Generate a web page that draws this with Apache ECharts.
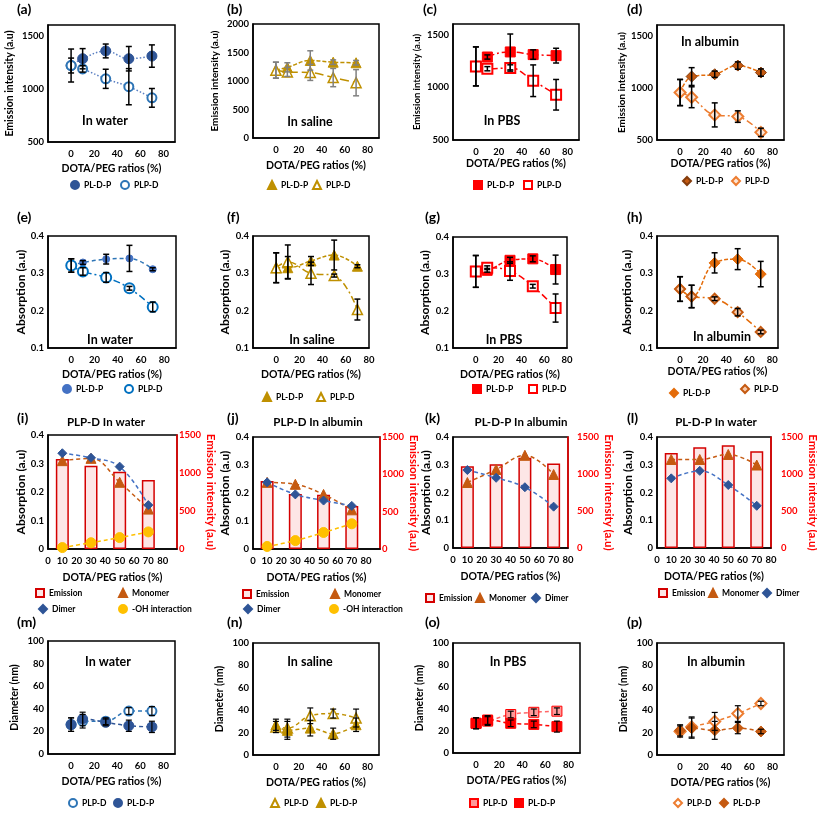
<!DOCTYPE html>
<html><head><meta charset="utf-8">
<script src="https://cdn.jsdelivr.net/npm/echarts@6/dist/echarts.min.js"></script>
<style>html,body{margin:0;padding:0;background:#fff}#c{width:817px;height:818px}</style>
</head><body><div id="c"></div>
<script>
// ---------- DATA ----------
const ratios = [0, 10, 30, 50, 70];
const barRatios = [10, 30, 50, 70];
// (a) emission in water
const aPLDP = [1219, 1283, 1356, 1283, 1308], aPLDPerr = [155, 95, 65, 115, 105];
const aPLPD = [1219, 1187, 1094, 1020, 915], aPLPDerr = [70, 30, 90, 170, 88];
// (b) emission in saline
const bPLDP = [1190, 1240, 1360, 1330, 1320], bPLDPerr = [140, 80, 170, 40, 40];
const bPLPD = [1190, 1160, 1150, 1060, 970], bPLPDerr = [140, 80, 140, 160, 230];
// (c) emission in PBS
const cPLDP = [1198, 1287, 1335, 1310, 1300], cPLDPerr = [185, 20, 170, 45, 70];
const cPLPD = [1198, 1176, 1183, 1062, 929], cPLPDerr = [185, 20, 30, 150, 145];
// (d) emission in albumin
const dPLDP = [954, 1107, 1129, 1212, 1145], dPLDPerr = [125, 85, 30, 35, 35];
const dPLPD = [954, 909, 740, 724, 573], dPLPDerr = [125, 100, 115, 55, 40];
// (e) absorption in water
const ePLDP = [0.321, 0.329, 0.338, 0.340, 0.311], ePLDPerr = [0.018, 0.005, 0.013, 0.035, 0.004];
const ePLPD = [0.321, 0.305, 0.289, 0.260, 0.210], ePLPDerr = [0.018, 0.01, 0.013, 0.005, 0.013];
// (f) absorption in saline
const fPLDP = [0.315, 0.315, 0.333, 0.349, 0.319], fPLDPerr = [0.04, 0.03, 0.012, 0.04, 0.004];
const fPLPD = [0.315, 0.331, 0.300, 0.294, 0.203], fPLPDerr = [0.04, 0.045, 0.03, 0.004, 0.028];
// (g) absorption in PBS
const gPLDP = [0.307, 0.310, 0.337, 0.341, 0.312], gPLDPerr = [0.043, 0.005, 0.008, 0.008, 0.039];
const gPLPD = [0.307, 0.317, 0.308, 0.267, 0.208], gPLPDerr = [0.043, 0.005, 0.025, 0.005, 0.038];
// (h) absorption in albumin
const hPLDP = [0.258, 0.238, 0.328, 0.338, 0.298], hPLDPerr = [0.033, 0.03, 0.027, 0.028, 0.034];
const hPLPD = [0.258, 0.238, 0.232, 0.196, 0.143], hPLPDerr = [0.033, 0.03, 0.005, 0.01, 0.005];
// (i) PLP-D in water
const iEmission = [1184, 1096, 1018, 908];
const iMonomer = [0.31, 0.318, 0.234, 0.14];
const iDimer = [0.336, 0.32, 0.289, 0.154];
const iOH = [0.005, 0.022, 0.04, 0.06];
// (j) PLP-D in albumin
const jEmission = [910, 735, 725, 575];
const jMonomer = [0.238, 0.231, 0.195, 0.14];
const jDimer = [0.238, 0.195, 0.173, 0.154];
const jOH = [0.009, 0.03, 0.059, 0.09];
// (k) PL-D-P in albumin
const kEmission = [1106, 1133, 1218, 1142];
const kMonomer = [0.236, 0.283, 0.334, 0.265];
const kDimer = [0.281, 0.253, 0.219, 0.149];
// (l) PL-D-P in water
const lEmission = [1285, 1361, 1388, 1307];
const lMonomer = [0.319, 0.319, 0.337, 0.299];
const lDimer = [0.251, 0.278, 0.227, 0.152];
// (m)-(p) diameter
const mPLPD = [26, 29, 29, 38, 38], mPLPDerr = [6, 6, 3, 3, 4];
const mPLDP = [26, 31, 28, 25, 24], mPLDPerr = [6, 6, 3, 5, 5];
const nPLPD = [25, 24, 35, 37, 33], nPLPDerr = [5, 8, 7, 4, 8];
const nPLDP = [27, 22, 24, 19, 27], nPLDPerr = [5, 8, 7, 5, 6];
const oPLPD = [27, 29, 35, 37, 38], oPLPDerr = [5, 4, 3, 3, 3];
const oPLDP = [27, 30, 27, 26, 24], oPLDPerr = [5, 4, 3, 3, 5];
const pPLPD = [21, 25, 30, 37, 46], pPLPDerr = [5, 9, 8, 7, 2];
const pPLDP = [22, 24, 22, 24, 21], pPLDPerr = [5, 9, 8, 5, 2];

// ---------- BUILD ----------
const FONT = 'Lato, "Open Sans", sans-serif';
const TICK = 9.5;
const grids = [], xAxis = [], yAxis = [], series = [], legend = [], graphic = [];

function txt(t, x, y, size, opt) {
  opt = opt || {};
  graphic.push({type: 'text', x: x, y: y, z: 100, silent: true,
    style: {text: t, fill: opt.color || '#000', fontSize: size, fontWeight: 'bold', fontFamily: FONT,
      align: opt.align || 'center', verticalAlign: 'middle'}});
}
function errRender(color, lw) {
  return function (params, api) {
    const x = api.value(0), y = api.value(1), e = api.value(2);
    const p1 = api.coord([x, y + e]), p2 = api.coord([x, y - e]);
    const w = 3, st = {stroke: color, lineWidth: lw};
    return {type: 'group', children: [
      {type: 'line', shape: {x1: p1[0], y1: p1[1], x2: p2[0], y2: p2[1]}, style: st},
      {type: 'line', shape: {x1: p1[0] - w, y1: p1[1], x2: p1[0] + w, y2: p1[1]}, style: st},
      {type: 'line', shape: {x1: p2[0] - w, y1: p2[1], x2: p2[0] + w, y2: p2[1]}, style: st}]};
  };
}
const fmtInt = v => (Math.abs(v % 500) < 1e-9 ? String(v) : '');
const fmtAbs = v => (v === 0 ? '0' : (+v).toFixed(1));
const fmtDia = v => String(Math.round(v));

function build(p) {
  const gi = grids.length;
  const [L, T, W, H] = p.box;
  grids.push({left: L, top: T, width: W, height: H, show: true, borderColor: '#000', borderWidth: 1.5,
    backgroundColor: 'transparent', containLabel: false, outerBoundsMode: 'none'});
  const xi = xAxis.length;
  xAxis.push({gridIndex: gi, type: 'value', min: p.x[0], max: p.x[1], interval: p.x[2],
    axisLine: {show: true, onZero: false, lineStyle: {color: '#000', width: 1.5}},
    axisTick: {show: false}, splitLine: {show: false},
    axisLabel: {show: true, margin: 7, color: '#000', fontSize: TICK, fontWeight: 'bold', fontFamily: FONT, hideOverlap: false,
      formatter: v => (v >= 0 && v <= 80 ? String(v) : '')},
    name: 'DOTA/PEG ratios (%)', nameLocation: 'middle', nameGap: p.xGap,
    nameTextStyle: {color: '#000', fontSize: 10.5, fontWeight: 'bold', fontFamily: FONT}});
  const yi = yAxis.length;
  yAxis.push({gridIndex: gi, type: 'value', position: 'left', min: p.y[0], max: p.y[1], interval: p.y[2],
    axisLine: {show: true, onZero: false, lineStyle: {color: '#000', width: 1.5}},
    axisTick: {show: false}, splitLine: {show: false},
    axisLabel: {margin: p.yMargin || 4, color: '#000', fontSize: TICK, fontWeight: 'bold', fontFamily: FONT, formatter: p.yFmt, hideOverlap: false},
    name: p.yName, nameLocation: 'middle', nameGap: p.yGap,
    nameTextStyle: {color: '#000', fontSize: p.yNameSize, fontWeight: 'bold', fontFamily: FONT}});
  let y2 = null;
  if (p.bars) {
    y2 = yAxis.length;
    yAxis.push({gridIndex: gi, type: 'value', position: 'right', min: 0, max: 1500, interval: 500,
      axisLine: {show: true, onZero: false, lineStyle: {color: '#ff0000', width: 1.5}},
      axisTick: {show: false}, splitLine: {show: false},
      axisLabel: {margin: p.y2Margin, color: '#ff0000', fontSize: TICK, fontWeight: 'bold', fontFamily: FONT, hideOverlap: false,
        formatter: v => String(v)},
      name: 'Emission intensity (a.u)', nameLocation: 'middle', nameGap: p.y2Gap, nameRotate: -90,
      nameTextStyle: {color: '#ff0000', fontSize: 11.5, fontWeight: 'bold', fontFamily: FONT}});
    series.push({type: 'bar', name: p.id + '|Emission', xAxisIndex: xi, yAxisIndex: y2,
      data: barRatios.map((x, i) => [x, p.bars[i]]), barWidth: 13, z: 1,
      itemStyle: {color: '#fde6e6', borderColor: '#d40000', borderWidth: 1.5}});
  }
  p.sets.forEach(s => {
    const xs = s.xs || ratios;
    const data = xs.map((x, i) => [x, s.v[i]]);
    series.push({type: 'line', xAxisIndex: xi, yAxisIndex: yi, data: data, smooth: 0.4, symbol: 'none',
      silent: true, z: 2, lineStyle: {color: s.line, width: 1.5, type: s.dash}});
    if (s.e) series.push({type: 'custom', xAxisIndex: xi, yAxisIndex: yi,
      data: xs.map((x, i) => [x, s.v[i], s.e[i]]), renderItem: errRender(p.errColor || '#000', p.errW || 1.5),
      encode: {x: 0, y: 1}, z: 5, silent: true, clip: false});
    series.push({type: 'scatter', name: p.id + '|' + s.label, xAxisIndex: xi, yAxisIndex: yi, data: data,
      symbol: s.sym, symbolSize: s.size, z: 4,
      itemStyle: {color: s.fill, borderColor: s.border, borderWidth: s.bw || 1, opacity: 1}});
  });
  p.legend.forEach(it => {
    const d = {name: p.id + '|' + it[0]};
    if (it[3]) d.icon = it[3];
    legend.push({data: [d], left: it[1] - 4, top: it[2] - 4, itemWidth: 8, itemHeight: 8, padding: 0, itemGap: 0,
      selectedMode: false, formatter: n => n.split('|')[1],
      textStyle: {color: '#000', fontSize: 8.5, fontWeight: 'bold', fontFamily: FONT}});
  });
  txt(p.tag[2], p.tag[0], p.tag[1], 14, {align: 'left'});
  if (p.text) txt(p.text[0], p.text[1], p.text[2], 12.5);
  if (p.title) txt(p.title[0], p.title[1], p.title[2], 11.5);
}

const BLUE_D = '#2f5597', BLUE = '#2e75b6', GOLD = '#bf9000', RED = '#ff0000', ORG = '#e46c0a', BRN = '#c55a11';
const DOT = [1.5, 2], DASH = [4, 2], LDASH = [9, 4], DD = [7, 3, 2, 3];

const panels = [
  {id: 'a', box: [48, 25, 127, 117], x: [-20, 90, 20], y: [500, 1600, 500], yFmt: fmtInt,
   yName: 'Emission intensity (a.u)', yNameSize: 10.5, yGap: 33, xGap: 21,
   sets: [
     {label: 'PL-D-P', v: aPLDP, e: aPLDPerr, sym: 'circle', size: 10, fill: BLUE_D, border: BLUE_D, line: '#5a7fc2', dash: DOT},
     {label: 'PLP-D', v: aPLPD, e: aPLPDerr, sym: 'circle', size: 9, fill: '#fff', border: BLUE, bw: 2, line: '#5a7fc2', dash: DOT}],
   legend: [['PL-D-P', 74, 184], ['PLP-D', 124, 184]], tag: [17, 9, '(a)'], text: ['In water', 105, 121]},
  {id: 'b', box: [253, 24, 126, 114], x: [-20, 90, 20], y: [0, 2000, 500], yFmt: fmtInt, errColor: '#808080',
   yName: 'Emission intensity (a.u)', yNameSize: 10, yGap: 33, xGap: 22,
   sets: [
     {label: 'PL-D-P', v: bPLDP, e: bPLDPerr, sym: 'triangle', size: 10, fill: GOLD, border: GOLD, line: GOLD, dash: DASH},
     {label: 'PLP-D', v: bPLPD, e: bPLPDerr, sym: 'triangle', size: 10, fill: '#fff', border: GOLD, bw: 1.5, line: GOLD, dash: LDASH}],
   legend: [['PL-D-P', 271, 184], ['PLP-D', 316, 184]], tag: [227, 9, '(b)'], text: ['In saline', 310, 122]},
  {id: 'c', box: [453, 24, 126, 116], x: [-20, 90, 20], y: [500, 1600, 500], yFmt: fmtInt,
   yName: 'Emission intensity (a.u)', yNameSize: 9.5, yGap: 31, xGap: 18,
   sets: [
     {label: 'PL-D-P', v: cPLDP, e: cPLDPerr, sym: 'rect', size: 10, fill: RED, border: RED, line: RED, dash: DD},
     {label: 'PLP-D', v: cPLPD, e: cPLPDerr, sym: 'rect', size: 10, fill: '#fff', border: RED, bw: 2, line: RED, dash: DD}],
   legend: [['PL-D-P', 477, 184], ['PLP-D', 527, 184]], tag: [423, 9, '(c)'], text: ['In PBS', 502, 121]},
  {id: 'd', box: [657, 25, 127, 115], x: [-20, 90, 20], y: [500, 1600, 500], yFmt: fmtInt,
   yName: 'Emission intensity (a.u)', yNameSize: 10, yGap: 30, xGap: 18,
   sets: [
     {label: 'PL-D-P', v: dPLDP, e: dPLDPerr, sym: 'diamond', size: 11, fill: BRN, border: '#843c0c', line: ORG, dash: DASH},
     {label: 'PLP-D', v: dPLPD, e: dPLPDerr, sym: 'diamond', size: 11, fill: '#fbe5d6', border: '#ed7d31', bw: 2, line: '#ed7d31', dash: DD}],
   legend: [['PL-D-P', 686, 180], ['PLP-D', 735, 180]], tag: [627, 9, '(d)'], text: ['In albumin', 710, 42]},
  {id: 'e', box: [48, 236, 128, 112], x: [-20, 90, 20], y: [0.1, 0.4, 0.1], yFmt: fmtAbs,
   yName: 'Absorption (a.u)', yNameSize: 12, yGap: 21, xGap: 21,
   sets: [
     {label: 'PL-D-P', v: ePLDP, e: ePLDPerr, sym: 'circle', size: 7, fill: '#4472c4', border: '#4472c4', line: BLUE, dash: [4, 3]},
     {label: 'PLP-D', v: ePLPD, e: ePLPDerr, sym: 'circle', size: 10, fill: '#fff', border: '#0070c0', bw: 2, line: '#0070c0', dash: DD}],
   legend: [['PL-D-P', 66, 388], ['PLP-D', 128, 388]], tag: [17, 217, '(e)'], text: ['In water', 110, 340]},
  {id: 'f', box: [253, 236, 116, 112], x: [-20, 80, 20], y: [0.1, 0.4, 0.1], yFmt: fmtAbs,
   yName: 'Absorption (a.u)', yNameSize: 12, yGap: 22, xGap: 21,
   sets: [
     {label: 'PL-D-P', v: fPLDP, e: fPLDPerr, sym: 'triangle', size: 10, fill: GOLD, border: GOLD, line: GOLD, dash: DASH},
     {label: 'PLP-D', v: fPLPD, e: fPLPDerr, sym: 'triangle', size: 10, fill: '#fff', border: GOLD, bw: 1.5, line: GOLD, dash: DD}],
   legend: [['PL-D-P', 266, 396], ['PLP-D', 320, 396]], tag: [227, 217, '(f)'], text: ['In saline', 312, 340]},
  {id: 'g', box: [453, 237, 114, 111], x: [-20, 80, 20], y: [0.1, 0.4, 0.1], yFmt: fmtAbs,
   yName: 'Absorption (a.u)', yNameSize: 12, yGap: 22, xGap: 21,
   sets: [
     {label: 'PL-D-P', v: gPLDP, e: gPLDPerr, sym: 'rect', size: 10, fill: RED, border: RED, line: RED, dash: DASH},
     {label: 'PLP-D', v: gPLPD, e: gPLPDerr, sym: 'rect', size: 10, fill: '#fff', border: RED, bw: 2, line: RED, dash: DD}],
   legend: [['PL-D-P', 476, 388], ['PLP-D', 532, 388]], tag: [425, 217, '(g)'], text: ['In PBS', 504, 340]},
  {id: 'h', box: [657, 236, 121, 112], x: [-20, 85, 20], y: [0.1, 0.4, 0.1], yFmt: fmtAbs,
   yName: 'Absorption (a.u)', yNameSize: 12, yGap: 24, xGap: 18,
   sets: [
     {label: 'PL-D-P', v: hPLDP, e: hPLDPerr, sym: 'diamond', size: 11, fill: ORG, border: ORG, line: ORG, dash: DASH},
     {label: 'PLP-D', v: hPLPD, e: hPLPDerr, sym: 'diamond', size: 10, fill: '#f8cbad', border: BRN, bw: 2, line: ORG, dash: DD}],
   legend: [['PL-D-P', 673, 392], ['PLP-D', 744, 388]], tag: [627, 217, '(h)'], text: ['In albumin', 722, 337]},
  {id: 'i', box: [48, 435, 129, 114], x: [0, 90, 10], y: [0, 0.4, 0.1], yFmt: fmtAbs, bars: iEmission, y2Gap: 17, y2Margin: 2,
   yName: 'Absorption (a.u)', yNameSize: 12, yGap: 19, xGap: 23, title: ['PLP-D In water', 106, 422],
   sets: [
     {label: 'Monomer', xs: barRatios, v: iMonomer, sym: 'triangle', size: 10, fill: BRN, border: BRN, line: BRN, dash: [4, 3]},
     {label: 'Dimer', xs: barRatios, v: iDimer, sym: 'diamond', size: 9, fill: BLUE_D, border: BLUE_D, line: '#4472c4', dash: [4, 3]},
     {label: '-OH interaction', xs: barRatios, v: iOH, sym: 'circle', size: 10, fill: '#ffc000', border: '#ffc000', line: '#ffc000', dash: [4, 3]}],
   legend: [['Emission', 39, 592, 'rect'], ['Monomer', 122, 592], ['Dimer', 42, 608], ['-OH interaction', 122, 608]],
   tag: [17, 418, '(i)']},
  {id: 'j', box: [253, 437, 127, 112], x: [0, 90, 10], y: [0, 0.4, 0.1], yFmt: fmtAbs, bars: jEmission, y2Gap: 19, y2Margin: 2,
   yName: 'Absorption (a.u)', yNameSize: 12, yGap: 22, xGap: 23, title: ['PLP-D In albumin', 318, 422],
   sets: [
     {label: 'Monomer', xs: barRatios, v: jMonomer, sym: 'triangle', size: 10, fill: BRN, border: BRN, line: BRN, dash: [4, 3]},
     {label: 'Dimer', xs: barRatios, v: jDimer, sym: 'diamond', size: 9, fill: BLUE_D, border: BLUE_D, line: '#4472c4', dash: [4, 3]},
     {label: '-OH interaction', xs: barRatios, v: jOH, sym: 'circle', size: 10, fill: '#ffc000', border: '#ffc000', line: '#ffc000', dash: [4, 3]}],
   legend: [['Emission', 246, 593, 'rect'], ['Monomer', 334, 593], ['Dimer', 247, 608], ['-OH interaction', 333, 608]],
   tag: [227, 418, '(j)']},
  {id: 'k', box: [453, 437, 115, 111], x: [0, 80, 10], y: [0, 0.4, 0.1], yFmt: fmtAbs, bars: kEmission, y2Gap: 32, y2Margin: 9,
   yName: 'Absorption (a.u)', yNameSize: 12, yGap: 20, xGap: 23, title: ['PL-D-P In albumin', 521, 422],
   sets: [
     {label: 'Monomer', xs: barRatios, v: kMonomer, sym: 'triangle', size: 10, fill: BRN, border: BRN, line: BRN, dash: [4, 3]},
     {label: 'Dimer', xs: barRatios, v: kDimer, sym: 'diamond', size: 9, fill: BLUE_D, border: BLUE_D, line: '#4472c4', dash: [4, 3]}],
   legend: [['Emission', 429, 597, 'rect'], ['Monomer', 479, 597], ['Dimer', 535, 597]],
   tag: [425, 418, '(k)']},
  {id: 'l', box: [657, 437, 114, 111], x: [0, 80, 10], y: [0, 0.4, 0.1], yFmt: fmtAbs, bars: lEmission, y2Gap: 31, y2Margin: 10,
   yName: 'Absorption (a.u)', yNameSize: 12, yGap: 23, xGap: 23, title: ['PL-D-P In water', 716, 422],
   sets: [
     {label: 'Monomer', xs: barRatios, v: lMonomer, sym: 'triangle', size: 10, fill: BRN, border: BRN, line: BRN, dash: [4, 3]},
     {label: 'Dimer', xs: barRatios, v: lDimer, sym: 'diamond', size: 9, fill: BLUE_D, border: BLUE_D, line: '#4472c4', dash: [4, 3]}],
   legend: [['Emission', 662, 592, 'rect'], ['Monomer', 712, 592], ['Dimer', 766, 592]],
   tag: [627, 418, '(l)']},
  {id: 'm', box: [48, 641, 127, 113], x: [-20, 90, 20], y: [0, 100, 20], yFmt: fmtDia, errW: 1.2,
   yName: 'Diameter (nm)', yNameSize: 10.5, yGap: 28, xGap: 22,
   sets: [
     {label: 'PLP-D', v: mPLPD, e: mPLPDerr, sym: 'circle', size: 9, fill: '#fff', border: BLUE, bw: 2, line: BLUE, dash: [4, 3]},
     {label: 'PL-D-P', v: mPLDP, e: mPLDPerr, sym: 'circle', size: 10, fill: BLUE_D, border: BLUE_D, line: BLUE_D, dash: [4, 3]}],
   legend: [['PLP-D', 72, 802], ['PL-D-P', 117, 802]], tag: [17, 622, '(m)'], text: ['In water', 108, 662]},
  {id: 'n', box: [253, 643, 126, 112], x: [-20, 90, 20], y: [0, 100, 20], yFmt: fmtDia, errW: 1.2,
   yName: 'Diameter (nm)', yNameSize: 10.5, yGap: 28, xGap: 22,
   sets: [
     {label: 'PLP-D', v: nPLPD, e: nPLPDerr, sym: 'triangle', size: 10, fill: '#fff', border: GOLD, bw: 1.5, line: GOLD, dash: [4, 3]},
     {label: 'PL-D-P', v: nPLDP, e: nPLDPerr, sym: 'triangle', size: 10, fill: GOLD, border: GOLD, line: GOLD, dash: [4, 3]}],
   legend: [['PLP-D', 274, 802], ['PL-D-P', 320, 802]], tag: [227, 622, '(n)'], text: ['In saline', 310, 662]},
  {id: 'o', box: [453, 643, 127, 110], x: [-20, 90, 20], y: [0, 100, 20], yFmt: fmtDia, errW: 1.2,
   yName: 'Diameter (nm)', yNameSize: 10.5, yGap: 28, xGap: 22,
   sets: [
     {label: 'PLP-D', v: oPLPD, e: oPLPDerr, sym: 'rect', size: 10, fill: '#ff9999', border: RED, bw: 1, line: '#ff6666', dash: [4, 3]},
     {label: 'PL-D-P', v: oPLDP, e: oPLDPerr, sym: 'rect', size: 10, fill: RED, border: RED, line: RED, dash: [4, 3]}],
   legend: [['PLP-D', 473, 802], ['PL-D-P', 518, 802]], tag: [425, 622, '(o)'], text: ['In PBS', 508, 662]},
  {id: 'p', box: [657, 643, 127, 112], x: [-20, 90, 20], y: [0, 100, 20], yFmt: fmtDia, errW: 1.2,
   yName: 'Diameter (nm)', yNameSize: 10.5, yGap: 28, xGap: 22,
   sets: [
     {label: 'PLP-D', v: pPLPD, e: pPLPDerr, sym: 'diamond', size: 11, fill: '#fff', border: '#ed7d31', bw: 2, line: '#ed7d31', dash: [4, 3]},
     {label: 'PL-D-P', v: pPLDP, e: pPLDPerr, sym: 'diamond', size: 11, fill: BRN, border: BRN, line: BRN, dash: [4, 3]}],
   legend: [['PLP-D', 677, 802], ['PL-D-P', 723, 802]], tag: [627, 622, '(p)'], text: ['In albumin', 716, 662]}
];
panels.forEach(build);

const chart = echarts.init(document.getElementById('c'), null, {renderer: 'canvas'});
chart.setOption({
  animation: false, backgroundColor: '#fff',
  grid: grids, xAxis: xAxis, yAxis: yAxis, series: series, legend: legend, graphic: graphic
});
</script>
</body></html>
